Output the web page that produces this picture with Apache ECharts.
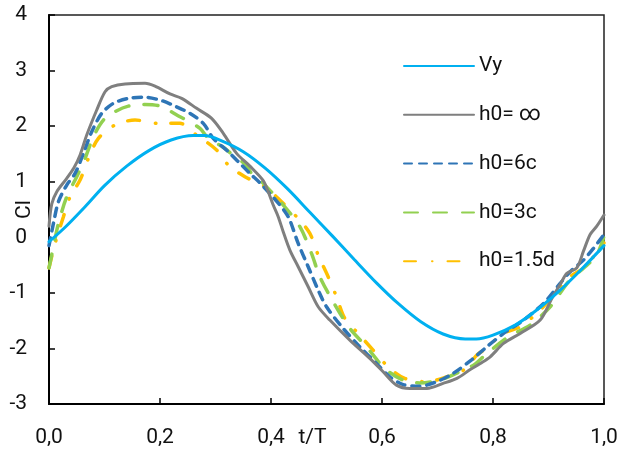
<!DOCTYPE html>
<html>
<head>
<meta charset="utf-8">
<script src="https://cdn.jsdelivr.net/npm/echarts@6/dist/echarts.min.js"></script>
<style>html,body{margin:0;padding:0;background:#fff}#chart{width:620px;height:452px}</style>
</head>
<body>
<div id="chart"></div>
<script>
// ---- data ----
const seriesNames = ['Vy', 'h0= ∞', 'h0=6c', 'h0=3c', 'h0=1.5d'];
const xTicks = [0, 0.2, 0.4, 0.6, 0.8, 1.0];
const yTicks = [-3, -2, -1, 0, 1, 2, 3, 4];

const tVy  = [0, 0.03, 0.065, 0.10, 0.14, 0.18, 0.22, 0.26, 0.28, 0.31, 0.35, 0.39, 0.43, 0.47, 0.51, 0.55, 0.59, 0.63, 0.67, 0.71, 0.75, 0.77, 0.80, 0.84, 0.88, 0.92, 0.96, 1.00];
const clVy = [-0.08, 0.19, 0.55, 0.93, 1.28, 1.56, 1.75, 1.83, 1.83, 1.74, 1.54, 1.24, 0.87, 0.45, 0.03, -0.40, -0.82, -1.20, -1.52, -1.74, -1.83, -1.83, -1.76, -1.58, -1.30, -0.96, -0.57, -0.15];

const tInf  = [0, 0.005, 0.014, 0.032, 0.045, 0.056, 0.068, 0.086, 0.101, 0.113, 0.137, 0.173, 0.191, 0.218, 0.239, 0.266, 0.293, 0.314, 0.338, 0.362, 0.386, 0.395, 0.404, 0.413, 0.422, 0.434, 0.449, 0.467, 0.485, 0.506, 0.542, 0.578, 0.602, 0.626, 0.650, 0.681, 0.710, 0.735, 0.759, 0.777, 0.795, 0.819, 0.849, 0.885, 0.906, 0.921, 0.933, 0.951, 0.963, 0.975, 0.987, 1.000];
const clInf = [0.20, 0.60, 0.82, 1.06, 1.25, 1.48, 1.84, 2.29, 2.62, 2.71, 2.76, 2.77, 2.72, 2.58, 2.50, 2.32, 2.14, 1.87, 1.51, 1.28, 1.02, 0.82, 0.58, 0.37, 0.10, -0.23, -0.53, -0.89, -1.25, -1.49, -1.85, -2.18, -2.42, -2.66, -2.72, -2.72, -2.63, -2.54, -2.38, -2.27, -2.15, -1.91, -1.73, -1.49, -1.10, -0.85, -0.65, -0.55, -0.25, 0.05, 0.20, 0.40];

const t6c  = [0, 0.008, 0.017, 0.032, 0.047, 0.062, 0.077, 0.095, 0.116, 0.143, 0.173, 0.203, 0.227, 0.254, 0.278, 0.296, 0.323, 0.344, 0.362, 0.380, 0.392, 0.404, 0.416, 0.428, 0.434, 0.449, 0.467, 0.485, 0.500, 0.530, 0.560, 0.590, 0.614, 0.638, 0.668, 0.698, 0.728, 0.762, 0.789, 0.819, 0.855, 0.891, 0.921, 0.939, 0.963, 0.981, 1.000];
const cl6c = [-0.15, 0.25, 0.64, 0.94, 1.15, 1.51, 1.90, 2.23, 2.41, 2.50, 2.52, 2.46, 2.36, 2.23, 2.05, 1.78, 1.54, 1.33, 1.15, 0.98, 0.85, 0.72, 0.58, 0.42, 0.31, -0.11, -0.53, -0.95, -1.25, -1.64, -1.97, -2.27, -2.51, -2.65, -2.68, -2.60, -2.45, -2.20, -1.97, -1.73, -1.49, -1.19, -0.83, -0.62, -0.41, -0.20, 0.05];

const t3c  = [0, 0.008, 0.017, 0.032, 0.050, 0.065, 0.080, 0.098, 0.119, 0.143, 0.173, 0.200, 0.236, 0.272, 0.287, 0.314, 0.335, 0.353, 0.365, 0.386, 0.422, 0.452, 0.473, 0.488, 0.512, 0.542, 0.572, 0.605, 0.638, 0.668, 0.704, 0.740, 0.765, 0.789, 0.828, 0.867, 0.903, 0.936, 0.966, 0.987, 1.000];
const cl3c = [-0.55, -0.17, 0.25, 0.73, 1.09, 1.42, 1.81, 2.11, 2.26, 2.36, 2.39, 2.36, 2.17, 1.96, 1.78, 1.62, 1.45, 1.32, 1.15, 0.97, 0.58, 0.19, -0.29, -0.71, -1.16, -1.64, -1.97, -2.36, -2.57, -2.62, -2.57, -2.42, -2.30, -2.09, -1.79, -1.58, -1.25, -0.80, -0.53, -0.32, 0.02];

const t15d  = [0, 0.011, 0.026, 0.038, 0.056, 0.071, 0.089, 0.119, 0.155, 0.197, 0.236, 0.266, 0.302, 0.323, 0.353, 0.389, 0.419, 0.446, 0.470, 0.485, 0.503, 0.518, 0.533, 0.557, 0.584, 0.611, 0.641, 0.681, 0.717, 0.747, 0.771, 0.783, 0.819, 0.849, 0.885, 0.912, 0.939, 0.966, 0.990, 1.000];
const cl15d = [-0.55, -0.11, 0.37, 0.73, 1.03, 1.42, 1.78, 2.02, 2.11, 2.05, 2.05, 1.84, 1.57, 1.30, 1.09, 0.91, 0.64, 0.37, 0.07, -0.32, -0.71, -1.07, -1.46, -1.73, -2.03, -2.33, -2.54, -2.60, -2.51, -2.39, -2.12, -2.03, -1.73, -1.61, -1.31, -1.01, -0.71, -0.53, -0.23, -0.10];

const colors = ['#00B0F0', '#7F7F7F', '#2E75B6', '#92D050', '#FFC000'];
const dashes = ['solid', 'solid', [8, 7], [14, 15], [12, 16, 0.5, 15]];
const widths = [3, 3, 3.5, 3.5, 3.5];

// ---- chart ----
const zip = (xs, ys) => xs.map((x, i) => [x, ys[i]]);
const allData = [zip(tVy, clVy), zip(tInf, clInf), zip(t6c, cl6c), zip(t3c, cl3c), zip(t15d, cl15d)];
const FONT = 'Roboto';
const chart = echarts.init(document.getElementById('chart'));
chart.setOption({
  animation: false,
  backgroundColor: '#fff',
  textStyle: { fontFamily: FONT },
  grid: { left: 49, top: 15, width: 555, height: 389, show: true, borderColor: '#222', borderWidth: 1.5,
          outerBoundsMode: 'none', containLabel: false },
  legend: {
    orient: 'vertical', left: 398, top: 50,
    itemWidth: 70, itemHeight: 14, itemGap: 26.8,
    itemStyle: { opacity: 0 },
    textStyle: { fontFamily: FONT, fontSize: 21, color: '#111', lineHeight: 22 },
    data: seriesNames
  },
  xAxis: {
    type: 'value', min: xTicks[0], max: xTicks[xTicks.length - 1], interval: 0.2,
    name: 't/T', nameLocation: 'middle', nameGap: 23, nameMoveOverlap: false,
    nameTextStyle: { fontFamily: FONT, fontSize: 21, color: '#111', padding: [0, 28, 0, 0] },
    axisLine: { onZero: false, lineStyle: { color: '#000', width: 2 } },
    axisTick: { inside: true, length: 6, lineStyle: { color: '#000', width: 1.5 } },
    axisLabel: { fontSize: 21, color: '#111', margin: 23, formatter: v => v.toFixed(1).replace('.', ',') },
    splitLine: { show: false }
  },
  yAxis: {
    type: 'value', min: yTicks[0], max: yTicks[yTicks.length - 1], interval: 1,
    name: 'Cl', nameLocation: 'middle', nameGap: 14, nameRotate: 90, nameMoveOverlap: false,
    nameTextStyle: { fontFamily: FONT, fontSize: 21, color: '#111' },
    axisLine: { onZero: false, lineStyle: { color: '#000', width: 2 } },
    axisTick: { inside: true, length: 6, lineStyle: { color: '#000', width: 1.5 } },
    axisLabel: { fontSize: 21, color: '#111', margin: 22, formatter: v => String(v) },
    splitLine: { show: false }
  },
  series: allData.map((d, i) => ({
    name: seriesNames[i], type: 'line', data: d,
    smooth: 0.3, showSymbol: false, symbol: 'none',
    color: colors[i],
    lineStyle: { color: colors[i], width: widths[i], type: dashes[i], cap: 'round' },
    z: 10 - i
  }))
});
</script>
</body>
</html>
